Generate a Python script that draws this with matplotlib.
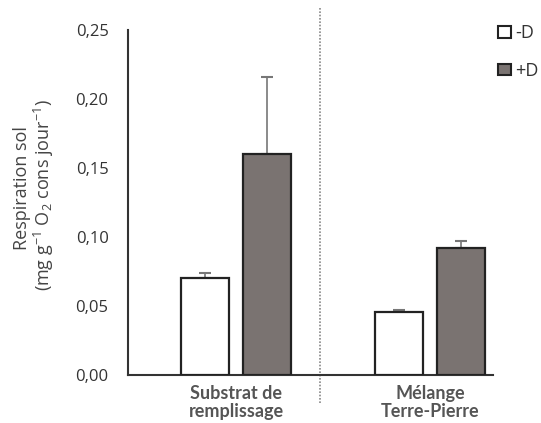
import matplotlib
matplotlib.use("Agg")
import matplotlib.pyplot as plt
from matplotlib.lines import Line2D
from matplotlib.patches import Patch

categories = ["Substrat de\nremplissage", "Mélange\nTerre-Pierre"]
minus_d = [0.070, 0.046]
minus_d_err = [0.004, 0.001]
plus_d = [0.160, 0.092]
plus_d_err = [0.056, 0.005]
yticks = [0.00, 0.05, 0.10, 0.15, 0.20, 0.25]
ytick_labels = ["0,00", "0,05", "0,10", "0,15", "0,20", "0,25"]

plt.rcParams['font.family'] = ['Open Sans', 'DejaVu Sans']

fig = plt.figure(figsize=(5.41, 4.23), dpi=100)
ax = fig.add_axes([128/541, 1-375/423, (493-128)/541, (375-30)/423])

x = [0, 1]
w = 0.247
off = 0.16
grey = "#7a7371"
ax.bar([xi - off for xi in x], minus_d, w, color="white", edgecolor="#222222", linewidth=1.6, zorder=3)
ax.bar([xi + off for xi in x], plus_d, w, color=grey, edgecolor="#222222", linewidth=1.6, zorder=3)
ax.errorbar([xi - off for xi in x], minus_d, yerr=[[0, 0], minus_d_err], fmt="none",
            ecolor="#777777", elinewidth=1.2, capsize=4, capthick=1.5, zorder=2)
ax.errorbar([xi + off for xi in x], plus_d, yerr=[[0, 0], plus_d_err], fmt="none",
            ecolor="#777777", elinewidth=1.2, capsize=4, capthick=1.5, zorder=2)

ax.set_xlim(-0.557, 1.325)
ax.set_ylim(0, 0.25)
ax.set_yticks(yticks)
ax.set_yticklabels(ytick_labels, fontsize=12, color="#333333")
ax.tick_params(axis="y", length=0, pad=14)
ax.tick_params(axis="x", length=0, pad=7)
ax.set_xticks(x)
ax.set_xticklabels(categories, fontsize=13, fontweight="bold", color="#555555",
                   family=["Lato", "DejaVu Sans"], linespacing=1.1)
for s in ["top", "right"]:
    ax.spines[s].set_visible(False)
for s in ["left", "bottom"]:
    ax.spines[s].set_color("#333333")
    ax.spines[s].set_linewidth(1.5)

# divider
ax.add_line(Line2D([0.433, 0.433], [-0.02, 0.266], transform=ax.transData,
                   color="#888888", linestyle=(0, (1, 1)), linewidth=1.2, clip_on=False))

fig.text(22/541, 1-188/423, "Respiration sol", rotation=90, ha="center", va="center",
         fontsize=13, color="#444444")
fig.text(44/541, 1-195/423,
         "(mg g$^{\\mathregular{-1}}$ O$_{\\mathregular{2}}$ cons jour$^{\\mathregular{-1}}$)",
         rotation=90, ha="center", va="center", fontsize=13, color="#444444")

handles = [Patch(facecolor="white", edgecolor="#222222", linewidth=1.5, label="-D"),
           Patch(facecolor=grey, edgecolor="#222222", linewidth=1.5, label="+D")]
fig.legend(handles=handles, loc="upper left", bbox_to_anchor=(482/541, 1-8/423),
           frameon=False, fontsize=13, handlelength=0.7, handleheight=0.6,
           handletextpad=0.25, labelspacing=1.1, labelcolor="#333333")

fig.savefig("out.png", dpi=100)
